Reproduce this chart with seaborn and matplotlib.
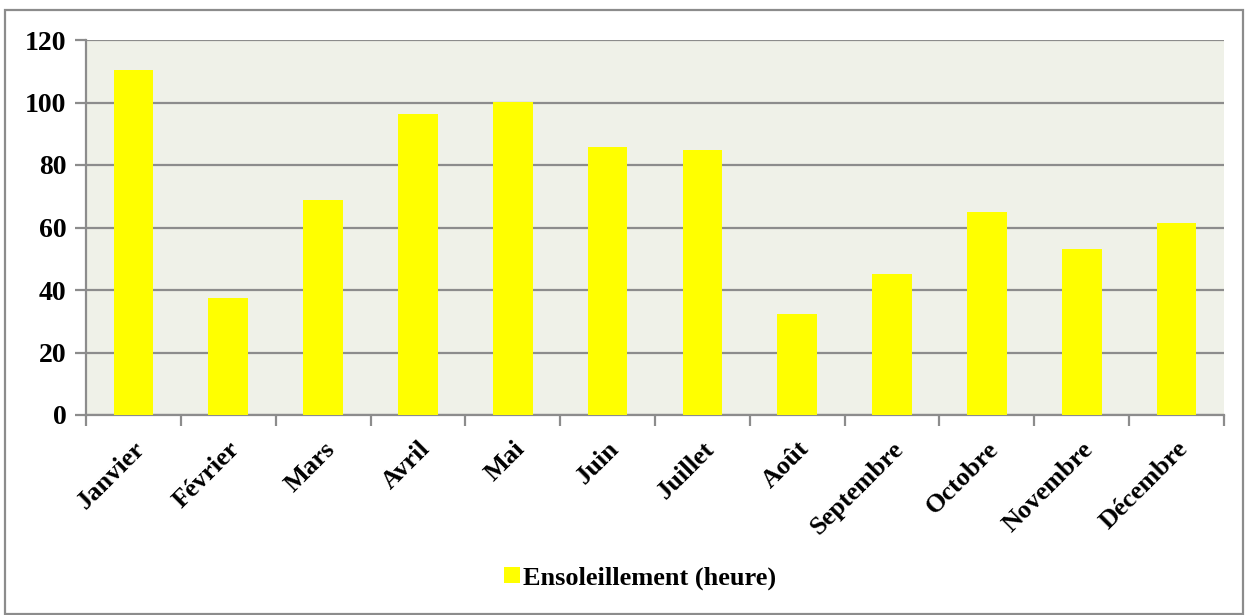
import matplotlib.pyplot as plt
import numpy as np
import pandas as pd
import seaborn as sns
from matplotlib.patches import Patch, Rectangle

months = ["Janvier", "Février", "Mars", "Avril", "Mai", "Juin",
          "Juillet", "Août", "Septembre", "Octobre", "Novembre", "Décembre"]
sunshine = [110.3, 37.5, 68.8, 96.3, 100.2, 85.8, 84.8, 32.4, 45.1, 65.0, 53.1, 61.4]
y_ticks = [0, 20, 40, 60, 80, 100, 120]
series_name = "Ensoleillement (heure)"

df = pd.DataFrame({"mois": months, "heures": sunshine})

sns.set_theme(style="white")
plt.rcParams["font.family"] = ["Liberation Serif", "DejaVu Serif"]
plt.rcParams["font.weight"] = "bold"
plt.rcParams["text.color"] = "black"
plt.rcParams["xtick.color"] = "black"
plt.rcParams["ytick.color"] = "black"

fig = plt.figure(figsize=(12.49, 6.15), dpi=100)
ax = fig.add_axes([86 / 1249, 1 - 415 / 615, (1224 - 86) / 1249, (415 - 40) / 615])

sns.barplot(data=df, x="mois", y="heures", color="#FFFF00", saturation=1,
            width=0.42, linewidth=0, edgecolor="none", ax=ax, zorder=3)

ax.set_facecolor("#EFF1E8")
ax.set_ylim(0, 120)
ax.set_xlim(-0.5, len(months) - 0.5)
ax.set_yticks(y_ticks)
ax.yaxis.grid(True, color="#8C8C8C", linewidth=1.6, zorder=1)
ax.set_axisbelow(True)

for side in ["top", "right"]:
    ax.spines[side].set_visible(False)
for side in ["left", "bottom"]:
    ax.spines[side].set_color("#8C8C8C")
    ax.spines[side].set_linewidth(1.6)

ax.set_xlabel("")
ax.set_ylabel("")
ax.tick_params(axis="y", length=8, width=1.6, color="#8C8C8C", labelcolor="black",
               labelsize=20, pad=6, left=True)
ax.set_xticks(np.arange(-0.5, len(months), 1.0), minor=True)
ax.tick_params(axis="x", which="minor", length=8, width=1.6, color="#8C8C8C", bottom=True)
ax.tick_params(axis="x", which="major", length=0, labelsize=19, labelcolor="black", pad=16)
ax.set_xticks(range(len(months)))
ax.set_xticklabels(months, rotation=45, ha="right", rotation_mode="anchor", fontweight="bold")
for lab in ax.get_yticklabels():
    lab.set_fontweight("bold")

handle = Patch(facecolor="#FFFF00", edgecolor="none")
fig.legend([handle], [series_name], loc="center", bbox_to_anchor=(640 / 1249, 1 - 578 / 615),
           frameon=False, prop={"weight": "bold", "size": 19}, handlelength=0.6,
           handleheight=0.6, handletextpad=0.1, labelcolor="black")

fig.patches.append(Rectangle((5 / 1249, 0.002), 1238 / 1249, 1 - 10 / 615 - 0.002,
                             transform=fig.transFigure, fill=False,
                             edgecolor="#8C8C8C", linewidth=1.6))

fig.savefig("out.png", dpi=100)
